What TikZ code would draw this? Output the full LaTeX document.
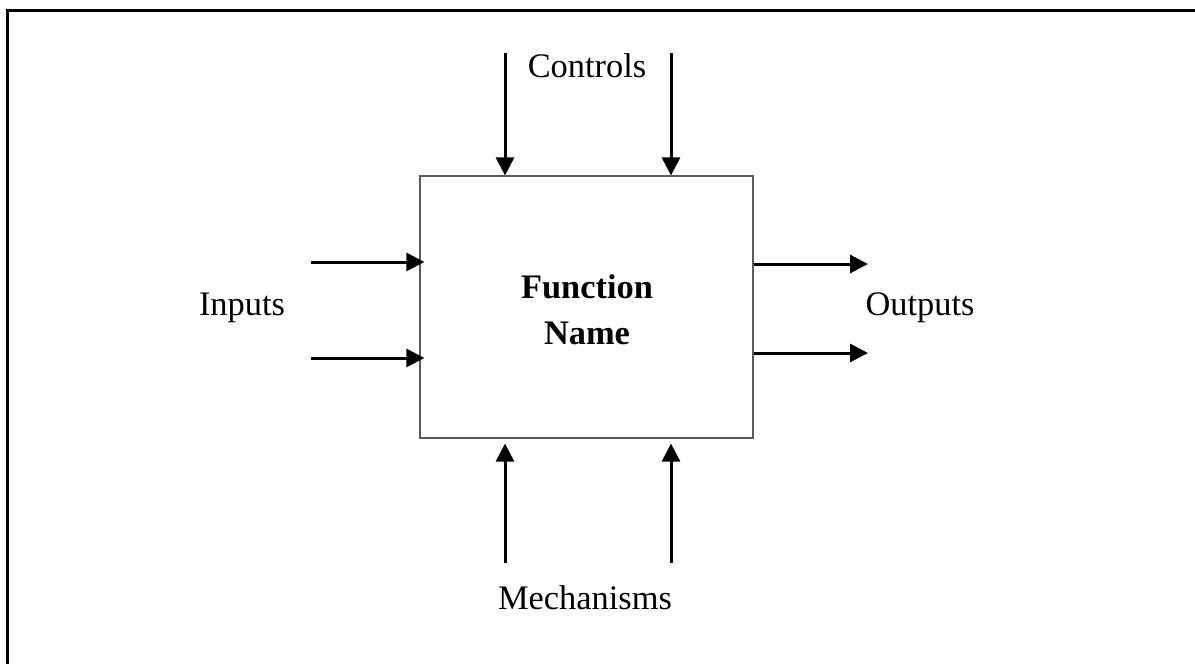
\documentclass[tikz,border=0pt]{standalone}
\usepackage{fontspec}
\setmainfont{Liberation Serif}
\usetikzlibrary{arrows.meta,positioning}
\definecolor{boxgray}{HTML}{5A5A5A}

\tikzset{
  flow/.style={line width=1.5pt,-{Triangle[length=9pt,width=9pt]}},
  label/.style={font=\fontsize{17.2}{20.5}\selectfont,inner sep=0pt}
}

\begin{document}
\begin{tikzpicture}[x=0.5pt,y=-0.5pt]
  \useasboundingbox (0,0) rectangle (1195,664);
  % frame (only top and left edges show)
  \draw[line width=1.5pt] (7,700) -- (7,10) -- (1200,10);

  \node[draw=boxgray,line width=0.6pt,minimum width=166.5pt,minimum height=131pt,
    inner sep=0pt] (fn) at (586.5,307) {};
  \node[label,font=\fontsize{17.2}{22.8}\selectfont\bfseries,align=center] (fname) at (587,310) {Function\\Name};

  \node[label] (ctl) at (587,66) {Controls};
  \node[label] (inp) at (242,308) {Inputs};
  \node[label] (outp) at (920,308) {Outputs};
  \node[label] (mech) at (585,598) {Mechanisms};

  % tails of the arrows
  \coordinate (c1) at (505,53);
  \coordinate (c2) at (671,53);
  \coordinate (i1) at (311,262);
  \coordinate (i2) at (311,358);
  \coordinate (o1) at (868,264);
  \coordinate (o2) at (868,353);
  \coordinate (m1) at (505,563);
  \coordinate (m2) at (671,563);

  \draw[flow] (c1) -- (c1 |- fn.north);
  \draw[flow] (c2) -- (c2 |- fn.north);
  \draw[flow] (i1) -- ([xshift=2.5pt]i1 -| fn.west);
  \draw[flow] (i2) -- ([xshift=2.5pt]i2 -| fn.west);
  \draw[flow] (o1 -| fn.east) -- (o1);
  \draw[flow] (o2 -| fn.east) -- (o2);
  \draw[flow] (m1) -- ([yshift=-2.5pt]m1 |- fn.south);
  \draw[flow] (m2) -- ([yshift=-2.5pt]m2 |- fn.south);
\end{tikzpicture}
\end{document}
